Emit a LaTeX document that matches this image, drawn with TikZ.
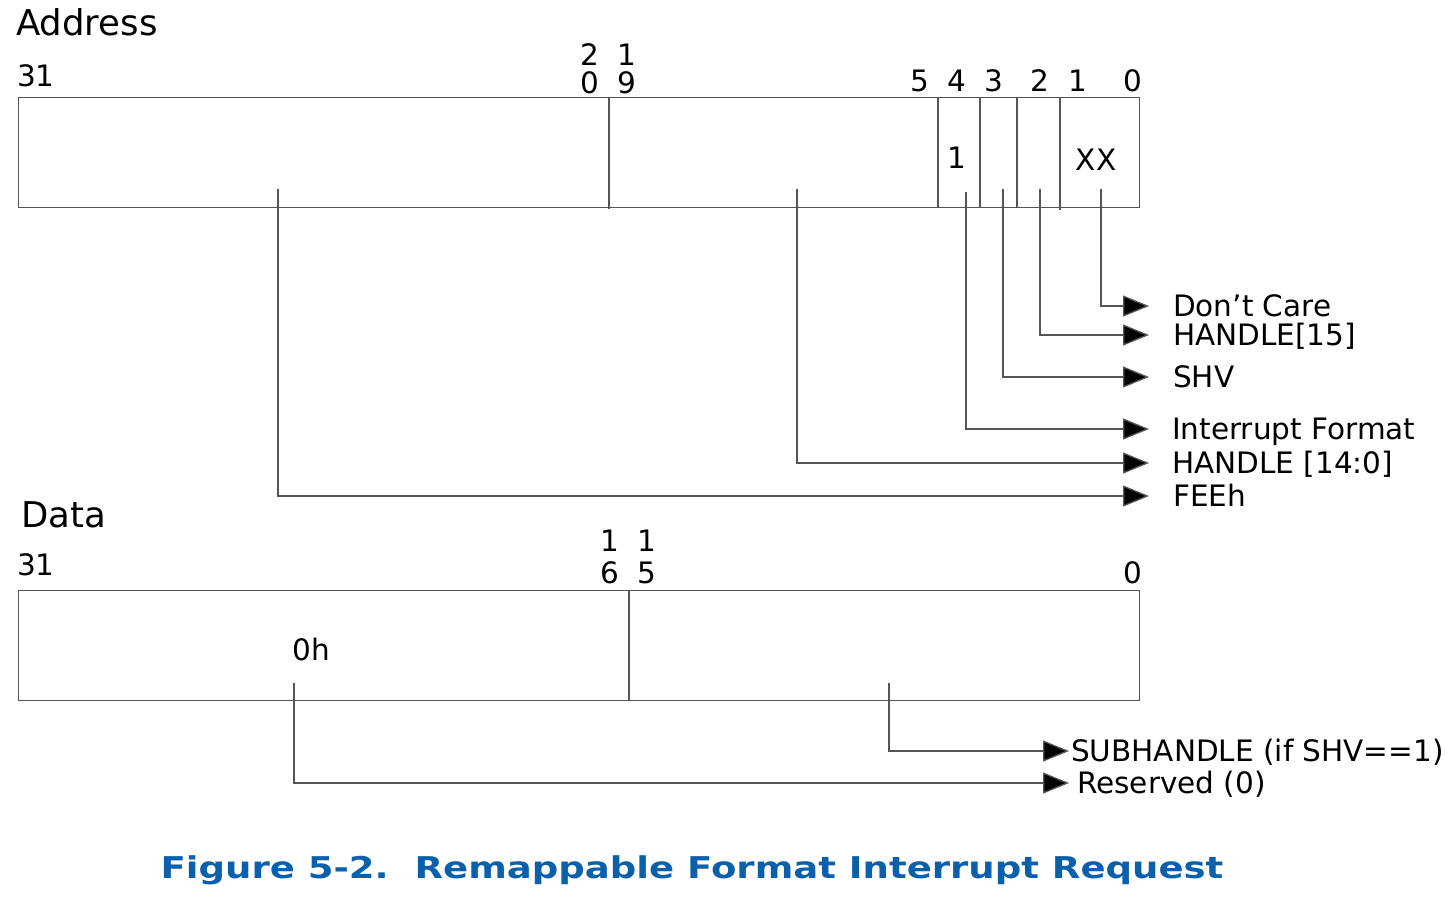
\documentclass[tikz,border=0pt]{standalone}
\usepackage{fontspec}
\setmainfont{DejaVu Sans}
\newfontfamily\capfont[FakeStretch=1.235]{DejaVu Sans}
\usetikzlibrary{arrows.meta}
\definecolor{rule}{RGB}{85,85,85}
\definecolor{captionblue}{RGB}{10,96,170}
\begin{document}
\begin{tikzpicture}[x=1pt,y=-1pt,
  every node/.style={inner sep=0pt},
  reg/.style={draw=rule,line width=1.3pt,minimum width=1121pt,minimum height=110pt,anchor=north west},
  div/.style={draw=rule,line width=1.3pt},
  conn/.style={draw=rule,line width=1.3pt,-{Triangle[length=26pt,width=21pt,fill=black]}},
  lbl/.style={font=\fontsize{29.5}{34}\selectfont,anchor=west,text height=21pt,text depth=0pt},
  bit/.style={font=\fontsize{29.5}{34}\selectfont,anchor=base},
  head/.style={font=\fontsize{35.5}{40}\selectfont,anchor=base west},
]
\useasboundingbox (0,0) rectangle (1453,898);

% ---------- Address register ----------
\node[head] (addr) at (16,35) {Address};
\node[bit,anchor=base west] (a31) at (17,86) {31};
% two-digit bit numbers are written one digit above the other
\node[bit] (a20hi) at (590,65) {2};
\node[bit] (a20lo) at (590,93) {0};
\node[bit] (a19hi) at (627,65) {1};
\node[bit] (a19lo) at (627,93) {9};
\node[bit] (a5) at (920,91) {5};
\node[bit] (a4) at (957,91) {4};
\node[bit] (a3) at (994,91) {3};
\node[bit] (a2) at (1040,91) {2};
\node[bit] (a1) at (1078,91) {1};
\node[bit] (a0) at (1133,91) {0};

\node[reg] (abox) at (18,97) {};
\draw[div] (609,97) -- (609,209);
\draw[div] (938,97) -- (938,207);
\draw[div] (980,97) -- (980,207);
\draw[div] (1017,97) -- (1017,207);
\draw[div] (1060,97) -- (1060,210);

\node[bit] (ifbit) at (957,168) {1};
\node[bit] (xx) at (1096,170) {XX};

% tap points inside the address fields
\coordinate (tdc) at (1101,189);
\coordinate (th15) at (1040,189);
\coordinate (tshv) at (1003,189);
\coordinate (tif) at (966,192);
\coordinate (th14) at (797,189);
\coordinate (tfee) at (278,189);

% field descriptions
\node[lbl] (ldc)   at (1149,306) {\hspace{24pt}Don’t Care};
\node[lbl] (lh15)  at (1149,335) {\hspace{24pt}HANDLE[15]};
\node[lbl] (lshv)  at (1149,377) {\hspace{24pt}SHV};
\node[lbl] (lif)   at (1149,429) {\hspace{23pt}Interrupt Format};
\node[lbl] (lh14)  at (1149,463) {\hspace{23pt}HANDLE [14:0]};
\node[lbl] (lfee)  at (1149,496) {\hspace{24pt}FEEh};

\draw[conn] (tdc)  |- (ldc.west);
\draw[conn] (th15) |- (lh15.west);
\draw[conn] (tshv) |- (lshv.west);
\draw[conn] (tif)  |- (lif.west);
\draw[conn] (th14) |- (lh14.west);
\draw[conn] (tfee) |- (lfee.west);

% ---------- Data register ----------
\node[head] (data) at (21,527) {Data};
\node[bit,anchor=base west] (d31) at (17,575) {31};
\node[bit] (d16hi) at (610,551) {1};
\node[bit] (d16lo) at (610,583) {6};
\node[bit] (d15hi) at (647,551) {1};
\node[bit] (d15lo) at (647,583) {5};
\node[bit] (d0) at (1133,583) {0};

\node[reg] (dbox) at (18,590) {};
\draw[div] (629,590) -- (629,700);

\node[bit] (zero) at (311,660) {0h};

\coordinate (tsub) at (889,683);
\coordinate (tres) at (294,683);

\node[lbl] (lsub) at (1069,751) {\hspace{2pt}SUBHANDLE (if SHV==1)};
\node[lbl] (lres) at (1069,783) {\hspace{8pt}Reserved (0)};

\draw[conn] (tsub) |- (lsub.west);
\draw[conn] (tres) |- (lres.west);

% ---------- Caption ----------
\node[font=\capfont\fontsize{30}{36}\bfseries\selectfont,text=captionblue] (cap) at (692,870)
  {Figure 5-2.\ \ Remappable Format Interrupt Request};
\end{tikzpicture}
\end{document}
